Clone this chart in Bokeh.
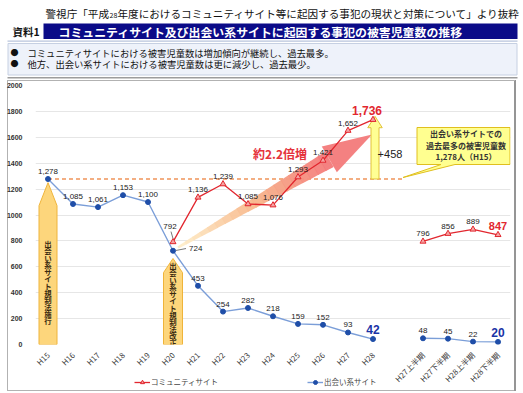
import math
from bokeh.plotting import figure
from bokeh.layouts import column
from bokeh.models import (ColumnDataSource, FixedTicker, Legend, LegendItem, Range1d)
from bokeh.core.properties import value
from bokeh.embed import file_html
from bokeh.resources import INLINE

JP = "Noto Sans CJK JP"
NUM = "Liberation Sans"

# ---------------- data ----------------
year_labels = ["H15", "H16", "H17", "H18", "H19", "H20", "H21",
               "H22", "H23", "H24", "H25", "H26", "H27", "H28"]
half_labels = ["H27上半期", "H27下半期", "H28上半期", "H28下半期"]
deai_year = [1278, 1085, 1061, 1153, 1100, 724, 453, 254, 282, 218, 159, 152, 93, 42]
deai_half = [48, 45, 22, 20]
comm_first_year = "H20"
comm_year = [792, 1136, 1239, 1085, 1076, 1293, 1421, 1652, 1736]
comm_half = [796, 856, 889, 847]
y_ticks = [0, 200, 400, 600, 800, 1000, 1200, 1400, 1600, 1800, 2000]

source_text_a = "警視庁「平成"
source_text_b = "28"
source_text_c = "年度におけるコミュニティサイト等に起因する事犯の現状と対策について」より抜粋"
tag_text = "資料1"
title_text = "コミュニティサイト及び出会い系サイトに起因する事犯の被害児童数の推移"
bullets = ["コミュニティサイトにおける被害児童数は増加傾向が継続し、過去最多。",
           "他方、出会い系サイトにおける被害児童数は更に減少し、過去最少。"]
arrow1_text = "出会い系サイト規制法施行"
arrow2_text = "出会い系サイト規制法改正"
growth_text = "約2.2倍増"
series_names = ["コミュニティサイト", "出会い系サイト"]

# category positions (gap between yearly and half-year groups)
year_x = list(range(len(year_labels)))
half_x = [len(year_labels) + 1 + k for k in range(len(half_labels))]
c0 = year_labels.index(comm_first_year)
comm_x = year_x[c0:]

RED = "#e2272f"
RED_FILL = "#f5a3a3"
BLUE_LINE = "#7b9ed8"
BLUE_DOT = "#1f4ea8"
BLUE_HI = "#1a33a6"

W = 523

# ================= header figure (pixel coordinates) =================
HH = 80
hdr = figure(width=W, height=HH, output_backend="svg", toolbar_location=None,
             x_range=Range1d(0, W), y_range=Range1d(HH, 0),
             x_axis_type=None, y_axis_type=None, min_border=0,
             outline_line_color=None, background_fill_color="white",
             border_fill_color="white")
hdr.grid.visible = False


def hbox(x0, y0, x1, y1, fill, line=None):
    hdr.quad(left=[x0], right=[x1], top=[y0], bottom=[y1],
             fill_color=fill, line_color=line, line_width=1)


def htext(x, y, text, size, color="#111111", style="normal"):
    hdr.text(x=[x], y=[y], text=[text], text_font=value(JP),
             text_font_size=size, text_color=color, text_font_style=style,
             text_align="left", text_baseline="middle")


hbox(43, 23, 517, 38.5, "#0b0b88")
hbox(7, 40, 517, 41.2, "#b8c4dc")
hbox(7.5, 43, 516.5, 74.5, "#eef2fa", "#c6d0e2")
hbox(7, 76.5, 517, 78, "#9c9c9c")

htext(45, 13, source_text_a, "10.6px")
htext(109, 14, source_text_b, "7px")
htext(117, 13, source_text_c, "10.6px")
htext(12, 31, tag_text, "10.5px", style="bold")
htext(58, 31, title_text, "11.9px", color="#ffffff", style="bold")
htext(10, 52, "●", "8px")
htext(10, 63, "●", "8px")
htext(27, 52, bullets[0], "9.3px")
htext(27, 63, bullets[1], "9.3px")

# ================= chart figure =================
p = figure(frame_width=475, frame_height=259, output_backend="svg", toolbar_location=None,
           x_range=Range1d(-0.5, half_x[-1] + 0.5), y_range=Range1d(0, 2000),
           min_border_left=35, min_border_right=13, min_border_top=5,
           min_border_bottom=0, background_fill_color="white",
           border_fill_alpha=0.0, outline_line_color=None)

all_x = year_x + half_x
p.xaxis.ticker = FixedTicker(ticks=all_x)
p.xaxis.major_label_overrides = {x: lab for x, lab in zip(all_x, year_labels + half_labels)}
p.xaxis.major_label_orientation = math.pi / 4
p.xaxis.axis_line_color = None
p.xaxis.major_tick_line_color = None
p.xaxis.minor_tick_line_color = None
p.xaxis.major_label_text_font = JP
p.xaxis.major_label_text_font_size = "7.8px"
p.xaxis.major_label_text_color = "#3a3a3a"
p.xaxis.major_label_standoff = 3
p.xgrid.visible = False

p.yaxis.ticker = FixedTicker(ticks=y_ticks)
p.yaxis.axis_line_color = None
p.yaxis.major_tick_line_color = None
p.yaxis.minor_tick_line_color = None
p.yaxis.major_label_text_font = NUM
p.yaxis.major_label_text_font_size = "7px"
p.yaxis.major_label_text_font_style = "bold"
p.yaxis.major_label_text_color = "#333333"
p.yaxis.major_label_standoff = 7
p.ygrid.grid_line_color = "#e6e6e6"


# decoration helpers: reference chart pixel -> data coordinates
def dx(px):
    return (px - 48.0) / 25.0


def dv(py):
    return (344.0 - py) / 0.1295


max_deai = max(deai_year)
max_comm = max(comm_year)

# dashed reference line at the past maximum
p.line([year_x[0], dx(403)], [max_deai, max_deai], line_color="#f0945a",
       line_width=1.4, line_dash="4 3")

# big gradient arrow built from bands
Tx, Ty = 178.0, 247.0
Hx, Hy = 372.0, 134.0
L = math.hypot(Hx - Tx, Hy - Ty)
ux, uy = (Hx - Tx) / L, (Hy - Ty) / L
nx, ny = -uy, ux
t_head = 0.78


def apt(t, w):
    return (dx(Tx + ux * L * t + nx * w), dv(Ty + uy * L * t + ny * w))


def lerp_col(c1, c2, f):
    return tuple(int(round(a + (b - a) * f)) for a, b in zip(c1, c2))


def arrow_col(f):
    c_a, c_b, c_c = (254, 236, 200), (248, 184, 140), (243, 122, 122)
    c = lerp_col(c_a, c_b, f / 0.5) if f < 0.5 else lerp_col(c_b, c_c, (f - 0.5) / 0.5)
    return "#%02x%02x%02x" % c


xs, ys, cols = [], [], []
N = 20
for k in range(N):
    t0 = t_head * k / N
    t1 = min(t_head * (k + 1) / N + 0.004, t_head)
    w0 = 1.2 + 7.5 * t0 / t_head
    w1 = 1.2 + 7.5 * t1 / t_head
    pts = [apt(t0, w0), apt(t1, w1), apt(t1, -w1), apt(t0, -w0)]
    xs.append([q[0] for q in pts])
    ys.append([q[1] for q in pts])
    cols.append(arrow_col(k / (N - 1)))
head = [apt(t_head, 15), apt(1.0, 0), apt(t_head, -15)]
xs.append([q[0] for q in head])
ys.append([q[1] for q in head])
cols.append(arrow_col(1.0))
p.patches("xs", "ys", source=ColumnDataSource(dict(xs=xs, ys=ys, c=cols)),
          fill_color="c", line_color=None, fill_alpha=0.95)


def up_arrow(x0, hw_shaft, hw_head, bottom, shoulder, tip, fill, line):
    ax = [x0 - hw_shaft, x0 + hw_shaft, x0 + hw_shaft, x0 + hw_head, x0,
          x0 - hw_head, x0 - hw_shaft]
    ay = [bottom, bottom, shoulder, shoulder, tip, shoulder, shoulder]
    p.patch(ax, ay, fill_color=fill, line_color=line, line_width=1.0)


def vertical_text(x0, top_py, text, step_px=7.0):
    # one upright character per row, stacked downwards
    vx = [x0] * len(text)
    vy = [dv(top_py + k * step_px) for k in range(len(text))]
    p.text(x=vx, y=vy, text=list(text), text_font=value(JP), text_font_size="7.4px",
           text_font_style="bold", text_color="#3a2a10", text_align="center",
           text_baseline="middle")


up_arrow(year_x[0], 0.36, 0.36, 0, 1072, 1250, "#fdd67c", "#efb43a")
up_arrow(year_x[c0], 0.38, 0.38, 0, 555, 664, "#fdd67c", "#efb43a")
vertical_text(year_x[0], 243, arrow1_text)
vertical_text(year_x[c0], 265, arrow2_text)

up_arrow(year_x[-1] + 0.08, 0.16, 0.29, max_deai, 1674, 1762, "#ffff94", "#e2c23a")
p.text(x=[dx(390)], y=[dv(153)], text=["+%d" % (max_comm - max_deai)],
       text_font=value(NUM), text_font_size="11px", text_color="#222222",
       text_align="center", text_baseline="middle")
p.text(x=[dx(280)], y=[dv(153)], text=[growth_text], text_font=value(JP),
       text_font_size="12px", text_font_style="bold", text_color="#e5323b",
       text_align="center", text_baseline="middle")

# callout box
cpx = [(417, 127), (510, 127), (510, 164), (455, 164), (403, 177), (441, 164), (417, 164)]
p.patch([dx(a) for a, b in cpx], [dv(b) for a, b in cpx], fill_color="#ffff90",
        line_color="#e0bf1e", line_width=1.0)
callout_lines = ["出会い系サイトでの", "過去最多の被害児童数",
                 "%s人（%s）" % (f"{max_deai:,}", year_labels[deai_year.index(max_deai)])]
p.text(x=[dx(466)] * 3, y=[dv(133), dv(145), dv(156)], text=callout_lines,
       text_font=value(JP), text_font_size="8px", text_font_style="bold",
       text_color="#333333", text_align="center", text_baseline="middle")

# ---------------- series ----------------
p.line(year_x, deai_year, line_color=BLUE_LINE, line_width=1.4)
p.line(half_x, deai_half, line_color=BLUE_LINE, line_width=1.4)
p.scatter(year_x, deai_year, marker="circle", size=5, fill_color=BLUE_DOT,
          line_color=BLUE_DOT)
p.scatter(half_x, deai_half, marker="circle", size=5, fill_color=BLUE_DOT,
          line_color=BLUE_DOT)

p.line(comm_x, comm_year, line_color=RED, line_width=1.3)
p.line(half_x, comm_half, line_color=RED, line_width=1.3)
p.scatter(comm_x, comm_year, marker="triangle", size=6, fill_color=RED_FILL,
          line_color=RED)
p.scatter(half_x, comm_half, marker="triangle", size=6, fill_color=RED_FILL,
          line_color=RED)

# ---------------- value labels ----------------
lx, ly, lt = [], [], []
for i, (x, v) in enumerate(zip(year_x, deai_year)):
    if i in (c0, len(year_x) - 1):
        continue
    lx.append(x); ly.append(v); lt.append(f"{v:,}")
for x, v in zip(half_x[:-1], deai_half[:-1]):
    lx.append(x); ly.append(v); lt.append(f"{v:,}")
for x, v in zip(comm_x[1:-1], comm_year[1:-1]):
    lx.append(x); ly.append(v); lt.append(f"{v:,}")
for x, v in zip(half_x[:-1], comm_half[:-1]):
    lx.append(x); ly.append(v); lt.append(f"{v:,}")
p.text("x", "y", "t", source=ColumnDataSource(dict(x=lx, y=ly, t=lt)),
       text_font=value(NUM), text_font_size="8px", text_color="#222222",
       text_align="center", text_baseline="bottom", y_offset=-5)

# labels with leader lines
p.segment(x0=[year_x[c0] + 0.12], y0=[deai_year[c0] + 2], x1=[year_x[c0] + 0.52],
          y1=[deai_year[c0] + 17], line_color="#555555", line_width=0.8)
p.text(x=[year_x[c0] + 0.64], y=[deai_year[c0] + 17], text=[f"{deai_year[c0]:,}"],
       text_font=value(NUM), text_font_size="8px", text_color="#222222",
       text_align="left", text_baseline="middle")
p.segment(x0=[comm_x[0] - 0.08], y0=[comm_year[0] + 80], x1=[comm_x[0]],
          y1=[comm_year[0] + 26], line_color="#555555", line_width=0.8)
p.text(x=[comm_x[0] - 0.12], y=[comm_year[0] + 119], text=[f"{comm_year[0]:,}"],
       text_font=value(NUM), text_font_size="8px", text_color="#222222",
       text_align="center", text_baseline="middle")

# highlighted latest values
p.text(x=[comm_x[-1]], y=[comm_year[-1]], text=[f"{comm_year[-1]:,}"],
       text_font=value(NUM), text_font_size="12px", text_font_style="bold",
       text_color=RED, text_align="center", text_baseline="bottom",
       x_offset=-6, y_offset=-5)
p.text(x=[half_x[-1]], y=[comm_half[-1]], text=[f"{comm_half[-1]:,}"],
       text_font=value(NUM), text_font_size="11px", text_font_style="bold",
       text_color=RED, text_align="center", text_baseline="bottom", y_offset=-5)
p.text(x=[year_x[-1], half_x[-1]], y=[deai_year[-1], deai_half[-1]],
       text=[f"{deai_year[-1]:,}", f"{deai_half[-1]:,}"],
       text_font=value(NUM), text_font_size="12px", text_font_style="bold",
       text_color=BLUE_HI, text_align="center", text_baseline="bottom", y_offset=-5)

# ================= legend strip (overlaps the bottom of the axis area) =================
LH = 15
leg = figure(width=W, height=LH, output_backend="svg", toolbar_location=None,
             x_range=Range1d(0, 1), y_range=Range1d(0, 1),
             x_axis_type=None, y_axis_type=None, min_border=0,
             outline_line_color=None, background_fill_alpha=0.0,
             border_fill_alpha=0.0, margin=(-13, 0, 0, 0))
leg.grid.visible = False
hidden = dict(x=[-5, -4], y=[-5, -5])
lr_line = leg.line(hidden["x"], hidden["y"], line_color=RED, line_width=1.3)
lr_mark = leg.scatter(hidden["x"], hidden["y"], marker="triangle", size=6,
                      fill_color=RED_FILL, line_color=RED)
lb_line = leg.line(hidden["x"], hidden["y"], line_color=BLUE_LINE, line_width=1.4)
lb_mark = leg.scatter(hidden["x"], hidden["y"], marker="circle", size=5,
                      fill_color=BLUE_DOT, line_color=BLUE_DOT)
legend = Legend(items=[LegendItem(label=series_names[0], renderers=[lr_line, lr_mark], index=0),
                       LegendItem(label=series_names[1], renderers=[lb_line, lb_mark], index=0)],
                location=(99, 5), orientation="horizontal", spacing=89,
                padding=0, margin=0, glyph_width=16, glyph_height=10,
                label_height=10, label_standoff=1, label_text_font=JP,
                label_text_font_size="7.5px", label_text_color="#444444",
                label_text_baseline="middle",
                background_fill_alpha=0.0, border_line_color=None)
leg.add_layout(legend)

box_styles = {
    "background-image": ("linear-gradient(#b2b2b2, #b2b2b2), linear-gradient(#b2b2b2, #b2b2b2), "
                         "linear-gradient(#959595, #959595), linear-gradient(#b2b2b2, #b2b2b2)"),
    "background-size": "1px 311px, 508px 1px, 2px 311px, 508px 1px",
    "background-position": "7px 0px, 7px 0px, 514px 0px, 7px 310px",
    "background-repeat": "no-repeat",
}
chart_box = column(p, leg, spacing=0, styles=box_styles)

open("out.html", "w").write(file_html(column(hdr, chart_box, spacing=0), INLINE))
